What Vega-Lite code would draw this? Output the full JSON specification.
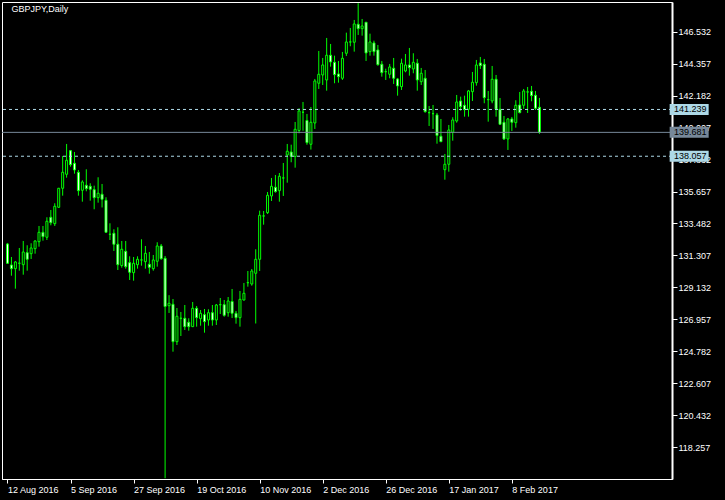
{
"$schema": "https://vega.github.io/schema/vega-lite/v6.json",
"width": 670, "height": 477,
"autosize": {"type": "none"},
"padding": {"left": 2, "top": 2, "right": 53, "bottom": 21},
"background": "black",
"config": {"view": {"stroke": "white", "strokeWidth": 1}, "font": "Liberation Sans",
"axisX": {"labelAlign": "left", "labelColor": "white", "labelFont": "Liberation Sans", "labelFontSize": 9, "labelPadding": 2, "tickColor": "white", "tickSize": 4, "tickWidth": 1, "domainColor": "white", "domainWidth": 1, "grid": false, "zindex": 0},
"axisY": {"domainColor": "white", "domainWidth": 2, "tickColor": "white", "tickSize": 5, "tickWidth": 1, "labelColor": "white", "labelFont": "Liberation Sans", "labelFontSize": 9, "labelPadding": 1, "grid": false, "zindex": 0}
},
"datasets": {
"bars": [
{"i":0,"d":"2016-08-12","o":132.088,"h":132.156,"l":130.727,"c":130.775},
{"i":1,"d":"2016-08-15","o":130.659,"h":131.204,"l":129.931,"c":130.408},
{"i":2,"d":"2016-08-16","o":130.408,"h":130.932,"l":129.047,"c":130.864},
{"i":3,"d":"2016-08-17","o":130.775,"h":131.816,"l":130.272,"c":130.78},
{"i":4,"d":"2016-08-18","o":130.68,"h":132.292,"l":130.0,"c":131.544},
{"i":5,"d":"2016-08-19","o":131.496,"h":132.0,"l":130.272,"c":131.047},
{"i":6,"d":"2016-08-22","o":131.428,"h":132.136,"l":131.068,"c":131.816},
{"i":7,"d":"2016-08-23","o":131.769,"h":132.34,"l":131.428,"c":132.292},
{"i":8,"d":"2016-08-24","o":132.245,"h":133.313,"l":131.904,"c":132.884},
{"i":9,"d":"2016-08-25","o":132.884,"h":133.313,"l":132.313,"c":132.585},
{"i":10,"d":"2016-08-26","o":132.544,"h":133.905,"l":132.36,"c":133.633},
{"i":11,"d":"2016-08-29","o":133.905,"h":134.401,"l":133.36,"c":133.537},
{"i":12,"d":"2016-08-30","o":133.469,"h":134.857,"l":133.313,"c":134.653},
{"i":13,"d":"2016-08-31","o":134.585,"h":135.9,"l":134.538,"c":135.878},
{"i":14,"d":"2016-09-01","o":135.878,"h":138.075,"l":135.374,"c":136.966},
{"i":15,"d":"2016-09-02","o":136.83,"h":138.892,"l":136.599,"c":137.783},
{"i":16,"d":"2016-09-05","o":138.436,"h":138.484,"l":137.347,"c":137.483},
{"i":17,"d":"2016-09-06","o":137.579,"h":138.348,"l":136.871,"c":137.123},
{"i":18,"d":"2016-09-07","o":136.966,"h":137.123,"l":135.374,"c":135.715},
{"i":19,"d":"2016-09-08","o":135.742,"h":136.422,"l":134.966,"c":136.306},
{"i":20,"d":"2016-09-09","o":136.082,"h":137.17,"l":135.674,"c":135.851},
{"i":21,"d":"2016-09-12","o":136.014,"h":136.218,"l":135.034,"c":135.81},
{"i":22,"d":"2016-09-13","o":135.783,"h":136.055,"l":134.449,"c":135.238},
{"i":23,"d":"2016-09-14","o":135.238,"h":136.626,"l":134.898,"c":135.538},
{"i":24,"d":"2016-09-15","o":135.47,"h":136.17,"l":134.572,"c":135.129},
{"i":25,"d":"2016-09-16","o":135.061,"h":135.266,"l":132.857,"c":132.884},
{"i":26,"d":"2016-09-19","o":132.748,"h":133.497,"l":132.36,"c":132.75},
{"i":27,"d":"2016-09-20","o":132.816,"h":133.088,"l":131.612,"c":132.068},
{"i":28,"d":"2016-09-21","o":132.068,"h":133.224,"l":130.319,"c":130.68},
{"i":29,"d":"2016-09-22","o":130.625,"h":132.292,"l":130.476,"c":131.728},
{"i":30,"d":"2016-09-23","o":131.592,"h":132.292,"l":130.408,"c":130.544},
{"i":31,"d":"2016-09-26","o":130.816,"h":131.251,"l":129.639,"c":130.163},
{"i":32,"d":"2016-09-27","o":130.136,"h":131.204,"l":129.591,"c":130.775},
{"i":33,"d":"2016-09-28","o":130.68,"h":131.251,"l":130.408,"c":131.047},
{"i":34,"d":"2016-09-29","o":131.0,"h":132.408,"l":130.612,"c":131.002},
{"i":35,"d":"2016-09-30","o":130.884,"h":131.952,"l":130.408,"c":131.455},
{"i":36,"d":"2016-10-03","o":130.707,"h":131.544,"l":130.067,"c":130.503},
{"i":37,"d":"2016-10-04","o":130.408,"h":131.34,"l":130.272,"c":131.0},
{"i":38,"d":"2016-10-05","o":130.911,"h":132.204,"l":130.544,"c":131.952},
{"i":39,"d":"2016-10-06","o":131.952,"h":132.088,"l":131.02,"c":131.088},
{"i":40,"d":"2016-10-07","o":131.115,"h":131.272,"l":116.15,"c":127.836},
{"i":41,"d":"2016-10-10","o":127.89,"h":128.605,"l":127.394,"c":128.054},
{"i":42,"d":"2016-10-11","o":127.986,"h":128.346,"l":124.761,"c":125.441},
{"i":43,"d":"2016-10-12","o":125.441,"h":127.734,"l":125.217,"c":127.169},
{"i":44,"d":"2016-10-13","o":127.033,"h":127.462,"l":125.829,"c":127.035},
{"i":45,"d":"2016-10-14","o":127.033,"h":127.938,"l":126.237,"c":126.462},
{"i":46,"d":"2016-10-17","o":126.761,"h":127.033,"l":126.189,"c":126.462},
{"i":47,"d":"2016-10-18","o":126.462,"h":128.142,"l":126.44,"c":127.714},
{"i":48,"d":"2016-10-19","o":127.714,"h":127.87,"l":126.462,"c":127.074},
{"i":49,"d":"2016-10-20","o":127.006,"h":127.598,"l":126.53,"c":127.373},
{"i":50,"d":"2016-10-21","o":127.278,"h":127.666,"l":126.054,"c":126.802},
{"i":51,"d":"2016-10-24","o":126.917,"h":127.645,"l":126.53,"c":127.414},
{"i":52,"d":"2016-10-25","o":127.414,"h":127.938,"l":126.53,"c":126.917},
{"i":53,"d":"2016-10-26","o":126.917,"h":128.006,"l":126.577,"c":127.938},
{"i":54,"d":"2016-10-27","o":127.958,"h":128.414,"l":127.326,"c":127.96},
{"i":55,"d":"2016-10-28","o":127.958,"h":128.278,"l":127.142,"c":127.237},
{"i":56,"d":"2016-10-31","o":127.414,"h":128.482,"l":127.142,"c":128.21},
{"i":57,"d":"2016-11-01","o":128.176,"h":129.027,"l":127.054,"c":127.373},
{"i":58,"d":"2016-11-02","o":127.373,"h":127.53,"l":126.666,"c":127.074},
{"i":59,"d":"2016-11-03","o":127.074,"h":128.891,"l":126.462,"c":128.326},
{"i":60,"d":"2016-11-04","o":128.278,"h":129.435,"l":128.24,"c":128.734},
{"i":61,"d":"2016-11-07","o":129.455,"h":130.251,"l":129.183,"c":129.457},
{"i":62,"d":"2016-11-08","o":129.367,"h":130.387,"l":129.251,"c":130.251},
{"i":63,"d":"2016-11-09","o":130.095,"h":131.728,"l":126.679,"c":131.047},
{"i":64,"d":"2016-11-10","o":131.047,"h":134.354,"l":130.251,"c":134.041},
{"i":65,"d":"2016-11-11","o":133.993,"h":134.333,"l":133.401,"c":133.995},
{"i":66,"d":"2016-11-14","o":134.218,"h":135.626,"l":134.129,"c":135.402},
{"i":67,"d":"2016-11-15","o":135.354,"h":136.579,"l":135.014,"c":136.014},
{"i":68,"d":"2016-11-16","o":135.946,"h":136.783,"l":135.579,"c":135.647},
{"i":69,"d":"2016-11-17","o":135.715,"h":136.919,"l":134.966,"c":136.694},
{"i":70,"d":"2016-11-18","o":136.579,"h":137.599,"l":135.354,"c":136.581},
{"i":71,"d":"2016-11-21","o":138.143,"h":138.892,"l":136.259,"c":138.395},
{"i":72,"d":"2016-11-22","o":138.348,"h":138.844,"l":137.647,"c":138.041},
{"i":73,"d":"2016-11-23","o":138.041,"h":140.389,"l":137.279,"c":139.892},
{"i":74,"d":"2016-11-24","o":139.81,"h":141.321,"l":139.62,"c":141.137},
{"i":75,"d":"2016-11-25","o":141.049,"h":141.749,"l":139.79,"c":141.051},
{"i":76,"d":"2016-11-28","o":140.491,"h":140.933,"l":138.837,"c":138.98},
{"i":77,"d":"2016-11-29","o":138.871,"h":141.409,"l":138.511,"c":140.368},
{"i":78,"d":"2016-11-30","o":140.321,"h":143.314,"l":139.912,"c":143.178},
{"i":79,"d":"2016-12-01","o":143.022,"h":145.219,"l":142.634,"c":143.634},
{"i":80,"d":"2016-12-02","o":143.586,"h":144.743,"l":142.906,"c":144.267},
{"i":81,"d":"2016-12-05","o":143.246,"h":146.104,"l":142.518,"c":144.927},
{"i":82,"d":"2016-12-06","o":144.927,"h":145.695,"l":144.151,"c":144.471},
{"i":83,"d":"2016-12-07","o":144.45,"h":144.899,"l":143.022,"c":143.607},
{"i":84,"d":"2016-12-08","o":143.654,"h":144.539,"l":143.062,"c":143.471},
{"i":85,"d":"2016-12-09","o":143.362,"h":145.151,"l":143.246,"c":144.723},
{"i":86,"d":"2016-12-12","o":145.063,"h":146.464,"l":144.879,"c":145.831},
{"i":87,"d":"2016-12-13","o":145.831,"h":146.784,"l":145.539,"c":145.833},
{"i":88,"d":"2016-12-14","o":145.811,"h":147.328,"l":145.172,"c":147.056},
{"i":89,"d":"2016-12-15","o":147.036,"h":148.47,"l":146.308,"c":146.736},
{"i":90,"d":"2016-12-16","o":146.736,"h":147.396,"l":146.26,"c":146.92},
{"i":91,"d":"2016-12-19","o":147.172,"h":147.18,"l":144.539,"c":145.083},
{"i":92,"d":"2016-12-20","o":145.172,"h":146.396,"l":144.899,"c":145.831},
{"i":93,"d":"2016-12-21","o":145.763,"h":145.92,"l":144.899,"c":145.172},
{"i":94,"d":"2016-12-22","o":145.287,"h":145.627,"l":144.219,"c":144.287},
{"i":95,"d":"2016-12-23","o":144.314,"h":144.539,"l":143.471,"c":143.743},
{"i":96,"d":"2016-12-26","o":143.811,"h":144.015,"l":143.246,"c":143.813},
{"i":97,"d":"2016-12-27","o":143.634,"h":144.335,"l":143.362,"c":144.131},
{"i":98,"d":"2016-12-28","o":144.042,"h":144.743,"l":142.974,"c":143.362},
{"i":99,"d":"2016-12-29","o":143.314,"h":143.382,"l":142.178,"c":142.838},
{"i":100,"d":"2016-12-30","o":142.79,"h":144.695,"l":142.566,"c":144.382},
{"i":101,"d":"2017-01-02","o":143.858,"h":145.015,"l":143.77,"c":144.267},
{"i":102,"d":"2017-01-03","o":144.267,"h":145.423,"l":143.539,"c":144.083},
{"i":103,"d":"2017-01-04","o":143.995,"h":145.063,"l":143.702,"c":144.45},
{"i":104,"d":"2017-01-05","o":144.382,"h":144.675,"l":142.518,"c":143.246},
{"i":105,"d":"2017-01-06","o":143.13,"h":144.063,"l":142.906,"c":143.702},
{"i":106,"d":"2017-01-09","o":143.362,"h":143.926,"l":141.021,"c":141.089},
{"i":107,"d":"2017-01-10","o":141.021,"h":141.477,"l":140.116,"c":141.023},
{"i":108,"d":"2017-01-11","o":140.953,"h":141.545,"l":139.912,"c":140.955},
{"i":109,"d":"2017-01-12","o":140.865,"h":141.001,"l":138.912,"c":139.47},
{"i":110,"d":"2017-01-13","o":139.416,"h":140.593,"l":139.02,"c":139.048},
{"i":111,"d":"2017-01-16","o":137.143,"h":138.211,"l":136.463,"c":137.511},
{"i":112,"d":"2017-01-17","o":137.511,"h":140.184,"l":137.007,"c":139.844},
{"i":113,"d":"2017-01-18","o":139.688,"h":140.708,"l":139.116,"c":140.525},
{"i":114,"d":"2017-01-19","o":140.457,"h":142.226,"l":140.341,"c":141.749},
{"i":115,"d":"2017-01-20","o":141.817,"h":142.11,"l":141.157,"c":141.429},
{"i":116,"d":"2017-01-23","o":141.525,"h":142.178,"l":140.749,"c":141.225},
{"i":117,"d":"2017-01-24","o":141.253,"h":142.566,"l":140.749,"c":142.498},
{"i":118,"d":"2017-01-25","o":142.45,"h":143.79,"l":141.817,"c":143.09},
{"i":119,"d":"2017-01-26","o":143.062,"h":144.607,"l":142.858,"c":144.267},
{"i":120,"d":"2017-01-27","o":144.403,"h":144.811,"l":143.995,"c":144.219},
{"i":121,"d":"2017-01-30","o":144.314,"h":144.675,"l":141.661,"c":142.042},
{"i":122,"d":"2017-01-31","o":141.906,"h":142.498,"l":140.409,"c":141.908},
{"i":123,"d":"2017-02-01","o":141.817,"h":144.199,"l":141.661,"c":143.294},
{"i":124,"d":"2017-02-02","o":143.294,"h":143.586,"l":140.749,"c":141.253},
{"i":125,"d":"2017-02-03","o":141.253,"h":142.021,"l":140.184,"c":140.232},
{"i":126,"d":"2017-02-06","o":140.368,"h":140.797,"l":139.164,"c":139.232},
{"i":127,"d":"2017-02-07","o":139.232,"h":140.661,"l":138.484,"c":140.593},
{"i":128,"d":"2017-02-08","o":140.593,"h":140.729,"l":139.776,"c":140.368},
{"i":129,"d":"2017-02-09","o":140.341,"h":141.865,"l":140.001,"c":141.525},
{"i":130,"d":"2017-02-10","o":141.545,"h":142.43,"l":140.98,"c":141.021},
{"i":131,"d":"2017-02-13","o":141.525,"h":142.634,"l":141.273,"c":142.498},
{"i":132,"d":"2017-02-14","o":142.43,"h":142.77,"l":141.001,"c":142.432},
{"i":133,"d":"2017-02-15","o":142.477,"h":142.838,"l":141.797,"c":142.178},
{"i":134,"d":"2017-02-16","o":142.205,"h":142.498,"l":141.205,"c":141.321},
{"i":135,"d":"2017-02-17","o":141.389,"h":142.021,"l":139.572,"c":139.681}
],
"levels": [
{"k":"upper","p":141.239},
{"k":"bid","p":139.681},
{"k":"lower","p":138.057}
],
"caption": [
{"t":"GBPJPY,Daily"}
]
},
"data": {"name": "bars"},
"layer": [
{
"mark": {"type": "rule", "color": "#00ff00", "strokeWidth": 1, "clip": true},
"encoding": {
"x": {"field": "i", "type": "quantitative", "title": null, "scale": {"domain": [-0.125, 167.375], "nice": false, "zero": false},
"axis": {"values": [0,16,32,48,64,80,96,112,128], "tickCount": 20, "labelExpr": "['12 Aug 2016','5 Sep 2016','27 Sep 2016','19 Oct 2016','10 Nov 2016','2 Dec 2016','26 Dec 2016','17 Jan 2017','8 Feb 2017'][round(datum.value/16)]", "labelOverlap": false, "labelFlush": false, "labelBound": false}},
"y": {"field": "l", "type": "quantitative", "title": null, "scale": {"domain": [116.1, 148.55], "nice": false, "zero": false},
"axis": {"orient": "right", "values": [118.257,120.432,122.607,124.782,126.957,129.132,131.307,133.482,135.657,137.832,140.007,142.182,144.357,146.532], "tickCount": 30, "format": ".3f", "labelOverlap": false, "labelFlush": false, "labelBound": false}},
"y2": {"field": "h"}
}
},
{
"mark": {"type": "bar", "width": 2, "stroke": "#00ff00", "strokeWidth": 1, "clip": true},
"encoding": {
"x": {"field": "i", "type": "quantitative", "title": null},
"y": {"field": "o", "type": "quantitative", "title": null},
"y2": {"field": "c"},
"fill": {"condition": {"test": "datum.c < datum.o", "value": "white"}, "value": "black"}
}
},
{
"data": {"name": "levels"},
"transform": [{"filter": "datum.k != 'bid'"}],
"mark": {"type": "rule", "color": "#add8e6", "strokeWidth": 1, "strokeDash": [3, 3]},
"encoding": {
"y": {"field": "p", "type": "quantitative", "title": null}
}
},
{
"data": {"name": "levels"},
"transform": [{"filter": "datum.k == 'bid'"}],
"mark": {"type": "rule", "color": "#778899", "strokeWidth": 1},
"encoding": {
"y": {"field": "p", "type": "quantitative", "title": null}
}
},
{
"data": {"name": "levels"},
"mark": {"type": "tick", "orient": "horizontal", "size": 39, "thickness": 11, "opacity": 1, "clip": false},
"encoding": {
"x": {"datum": 173, "type": "quantitative", "title": null},
"y": {"field": "p", "type": "quantitative", "title": null},
"color": {"condition": {"test": "datum.k == 'bid'", "value": "#778899"}, "value": "#add8e6"}
}
},
{
"data": {"name": "levels"},
"mark": {"type": "text", "align": "left", "baseline": "middle", "font": "Liberation Sans", "fontSize": 9, "color": "black", "clip": false},
"encoding": {
"x": {"datum": 169.125, "type": "quantitative", "title": null},
"y": {"field": "p", "type": "quantitative", "title": null},
"text": {"field": "p", "type": "quantitative", "format": ".3f"}
}
},
{
"data": {"name": "caption"},
"mark": {"type": "text", "align": "left", "baseline": "alphabetic", "font": "Liberation Sans", "fontSize": 9, "color": "white"},
"encoding": {
"x": {"datum": 1.0, "type": "quantitative", "title": null},
"y": {"datum": 147.836, "type": "quantitative", "title": null},
"text": {"field": "t", "type": "nominal"}
}
}
]
}
